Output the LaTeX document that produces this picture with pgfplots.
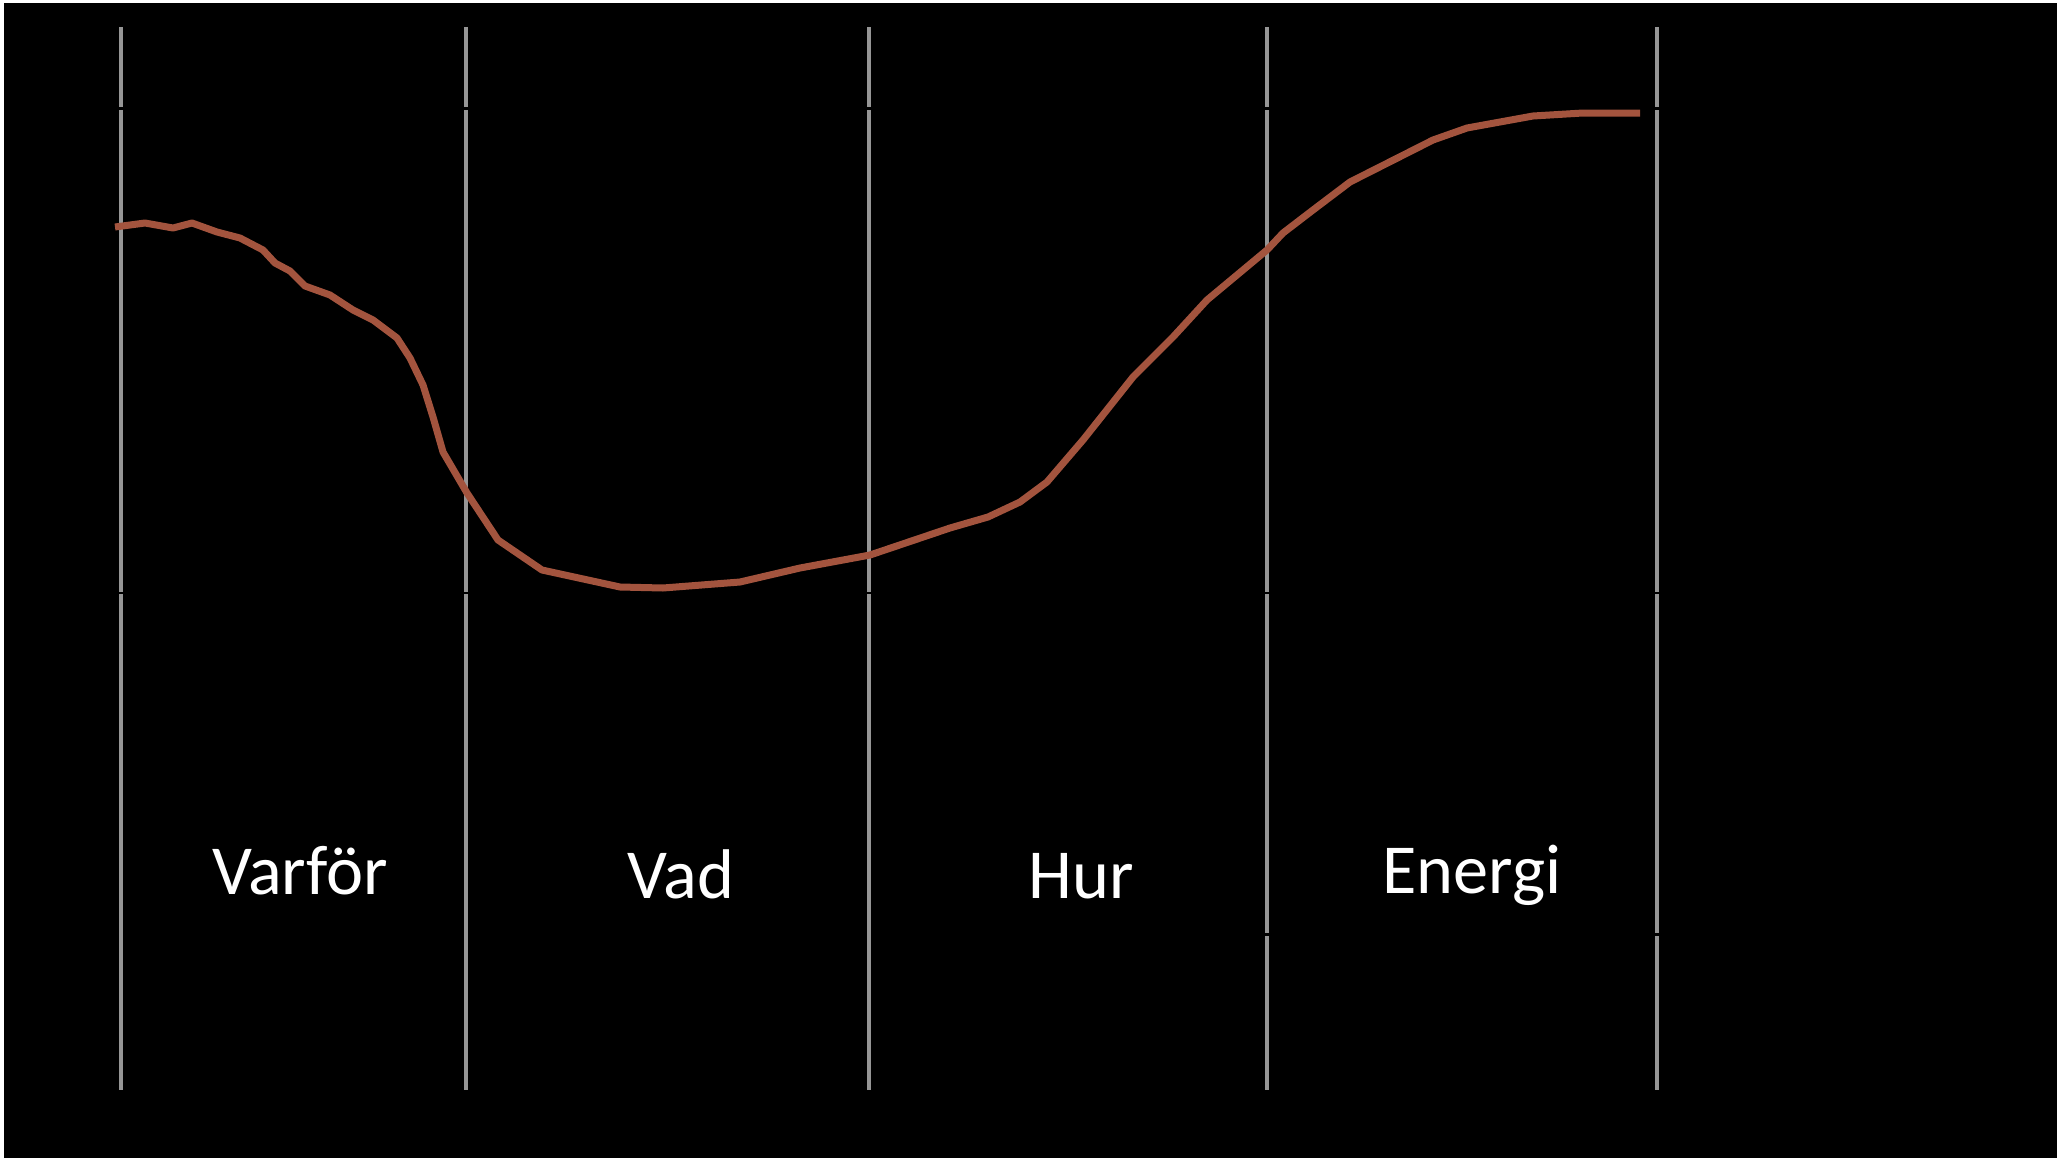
\documentclass[border=0pt]{standalone}
\usepackage{fontspec}
\setmainfont{Carlito}
\usepackage{pgfplots}
\pgfplotsset{compat=1.18}
\definecolor{curve}{RGB}{163,84,62}
\definecolor{vline}{RGB}{150,150,150}
\begin{document}
\begin{tikzpicture}
\begin{axis}[
  width=20.65cm, height=11.58cm, scale only axis,
  xmin=0, xmax=2065, ymin=0, ymax=1158, y dir=reverse,
  hide axis, clip=false,
]
% frame and background
\fill[white] (axis cs:0,0) rectangle (axis cs:2065,1158);
\fill[black] (axis cs:4,3) rectangle (axis cs:2057,1158);
% vertical separators
\addplot[vline, line width=0.45mm, forget plot] coordinates {(121,27) (121,1090)};
\addplot[vline, line width=0.45mm, forget plot] coordinates {(466,27) (466,1090)};
\addplot[vline, line width=0.45mm, forget plot] coordinates {(869,27) (869,1090)};
\addplot[vline, line width=0.45mm, forget plot] coordinates {(1267,27) (1267,1090)};
\addplot[vline, line width=0.45mm, forget plot] coordinates {(1657,27) (1657,1090)};
% hidden black gridlines that cut the separators
\addplot[black, line width=0.25mm, forget plot] coordinates {(60,108.5) (1720,108.5)};
\addplot[black, line width=0.25mm, forget plot] coordinates {(60,593) (1720,593)};
\addplot[black, line width=0.3mm, forget plot] coordinates {(1250,934.5) (1680,934.5)};
% curve
\addplot[curve, line width=0.7mm, line join=round] coordinates {
(115,227) (145,223) (173,228) (192,223) (217,232) (240,238) (263,250)
(275,263) (290,271) (305,286) (330,295) (353,310) (373,320) (397,338)
(410,358) (423,385) (433,417) (443,452) (467,493) (498,540) (542,570)
(620,587) (663,588) (740,582) (800,568) (870,555) (950,528) (988,517)
(1020,502) (1047,482) (1083,440) (1133,377) (1173,337) (1207,300)
(1267,250) (1283,233) (1313,210) (1350,182) (1433,140) (1467,128)
(1533,116) (1583,113) (1640,113)
};
% labels
\node[white, anchor=base, font=\fontsize{20}{24}\selectfont, inner sep=0pt] at (axis cs:300,894) {Varför};
\node[white, anchor=base, font=\fontsize{20}{24}\selectfont, inner sep=0pt] at (axis cs:681,898) {Vad};
\node[white, anchor=base, font=\fontsize{20}{24}\selectfont, inner sep=0pt] at (axis cs:1081,898) {Hur};
\node[white, anchor=base, font=\fontsize{20}{24}\selectfont, inner sep=0pt] at (axis cs:1472,893) {Energi};
\end{axis}
\end{tikzpicture}
\end{document}
